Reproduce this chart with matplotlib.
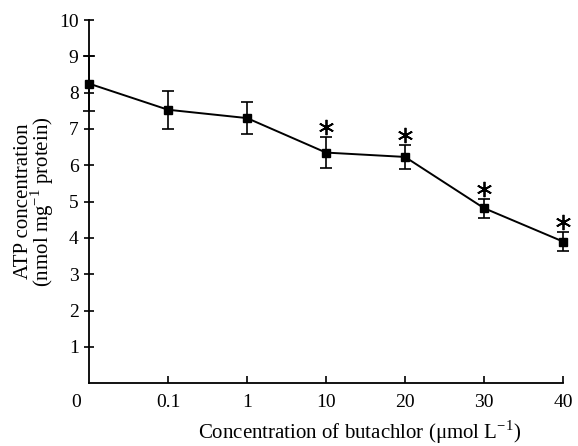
import matplotlib
matplotlib.use("Agg")
import matplotlib.pyplot as plt
import matplotlib.transforms as mtransforms
import numpy as np

plt.rcParams['font.family'] = ['Liberation Serif', 'DejaVu Serif']

# data
conc_labels = ['0', '0.1', '1', '10', '20', '30', '40']
atp_mean = [8.25, 7.53, 7.30, 6.35, 6.23, 4.82, 3.90]
atp_err = [0.75, 0.52, 0.43, 0.42, 0.32, 0.26, 0.27]
significant = [False, False, False, True, True, True, True]

x = np.arange(len(conc_labels))

fig = plt.figure(figsize=(5.78, 4.46), dpi=100)
ax = fig.add_axes([0.154, 0.141, 0.820, 0.814])

ax.errorbar(x, atp_mean, yerr=atp_err, color='black', lw=1.4,
            marker='s', markersize=6, capsize=4, elinewidth=1.2, capthick=1.2,
            clip_on=False, zorder=3)

# asterisks just above the error bars
sig_x = [xi for xi, s in zip(x, significant) if s]
sig_top = [m + e for m, e, s in zip(atp_mean, atp_err, significant) if s]
star_shift = ax.transData + mtransforms.ScaledTranslation(0, 10 / 100, fig.dpi_scale_trans)
ax.plot(sig_x, sig_top, linestyle='none', marker=(6, 2, 0), markersize=11,
        markeredgewidth=1.3, color='black', transform=star_shift, clip_on=False)

ax.set_xlim(0, 6)
ax.set_ylim(0, 10)
ax.set_xticks(x)
ax.set_xticklabels(conc_labels, fontsize=14)
ax.set_yticks(range(1, 11))
ax.set_yticklabels([str(v) for v in range(1, 11)], fontsize=14)

# the "0" label sits a little left of the axis in the original
ax.get_xticklabels()[0].set_visible(False)
ax.annotate(conc_labels[0], (x[0], 0), xycoords=('data', 'axes fraction'),
            xytext=(-9, -8), textcoords='offset points', ha='center', va='top',
            fontsize=14)

ax.tick_params(axis='x', direction='in', length=5, width=1.2, pad=8)
ax.tick_params(axis='y', direction='inout', length=7, width=1.2, pad=4)
ax.xaxis.get_major_ticks()[0].tick1line.set_visible(False)

for side in ['top', 'right']:
    ax.spines[side].set_visible(False)
for side in ['left', 'bottom']:
    ax.spines[side].set_linewidth(1.3)

ax.set_xlabel('Concentration of butachlor (μmol L$^{\\mathregular{-1}}$)',
              fontsize=15, labelpad=6)
ax.xaxis.set_label_coords(0.57, -0.097)
ax.xaxis.label.set_va('top')
ax.set_ylabel('ATP concentration\n(nmol mg$^{\\mathregular{-1}}$ protein)', fontsize=15,
              labelpad=2, linespacing=0.8)

fig.savefig('out.png', dpi=100)
